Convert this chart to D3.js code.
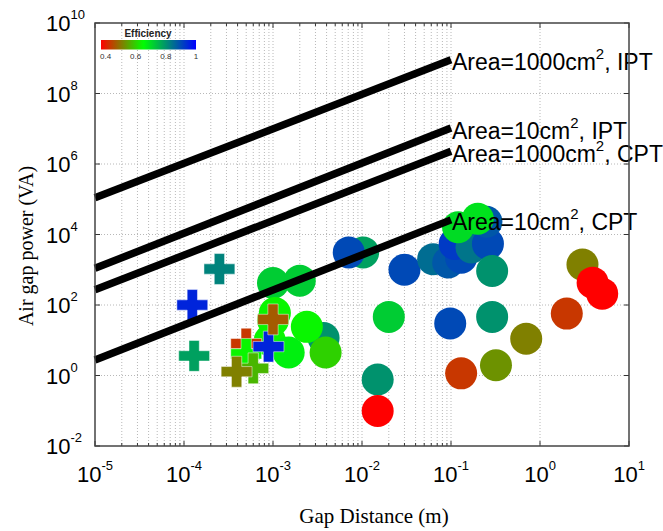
<!DOCTYPE html>
<html>
<head>
<meta charset="utf-8">
<script src="https://cdn.jsdelivr.net/npm/d3@7"></script>
<style>
  html, body { margin: 0; padding: 0; background: #fff; }
  svg { display: block; }
</style>
</head>
<body>
<svg id="chart" width="663" height="531"></svg>
<script>
// ---- data ----
// Round markers: gap distance (m), air gap power (VA), efficiency
const circleGap   = [1.03e-2, 7.1e-3, 3.0e-2, 6.3e-2, 9.3e-2, 0.13, 0.11, 0.17, 0.26, 0.25, 0.29,
                     0.12, 0.20, 1.0e-3, 2.0e-3, 2.0e-2, 0.098, 0.29, 0.70, 2.0, 3.0, 3.9, 5.0,
                     0.13, 0.32, 1.5e-2, 1.5e-2, 9.2e-4, 1.0e-3, 1.05e-3, 3.7e-3, 2.4e-3, 3.9e-3, 1.5e-3];
const circlePower = [3.1e3, 3.1e3, 1.0e3, 2.0e3, 1.6e3, 2.2e3, 5.4e3, 4.3e3, 5.4e3, 2.3e4, 9.2e2,
                     1.6e4, 2.8e4, 4.2e2, 4.9e2, 46, 30, 46, 11, 57, 1.4e3, 4.3e2, 2.1e2,
                     1.15, 1.96, 0.77, 0.098, 10, 37, 59, 11.6, 24, 4.5, 4.5];
const circleEff   = [0.78, 0.90, 0.90, 0.85, 0.88, 0.90, 0.92, 0.84, 0.90, 0.88, 0.80,
                     0.70, 0.69, 0.72, 0.72, 0.72, 0.90, 0.80, 0.51, 0.43, 0.51, 0.37, 0.37,
                     0.43, 0.53, 0.80, 0.37, 0.64, 0.64, 0.64, 0.80, 0.64, 0.60, 0.67];

// Cross markers: gap distance (m), air gap power (VA), efficiency
const plusGap   = [2.5e-4, 1.24e-4, 1.3e-4, 5.0e-4, 5.0e-4, 6.0e-4, 3.9e-4, 8.9e-4, 1.0e-3];
const plusPower = [1.05e3, 100, 3.6, 8.0, 4.1, 1.6, 1.28, 6.6, 39];
const plusEff   = [0.82, 0.95, 0.78, 0.43, 0.64, 0.57, 0.51, 0.95, 0.47];

// Theoretical limit lines (start/end gap and power)
const lineArea       = ["1000", "10", "1000", "10"];
const lineType       = ["IPT", "IPT", "CPT", "CPT"];
const lineGapStart   = [1e-5, 1e-5, 1e-5, 1e-5];
const lineGapEnd     = [0.1, 0.1, 0.1, 0.1];
const linePowerStart = [1.1e5, 1.1e3, 2.7e2, 2.75];
const linePowerEnd   = [9e8, 1.05e7, 2.3e6, 2.6e4];

// Axis ticks
const xTickExp = [-5, -4, -3, -2, -1, 0, 1];
const yTickExp = [-2, 0, 2, 4, 6, 8, 10];
const effTicks = [0.4, 0.6, 0.8, 1];
const effDomain = [0.37, 0.65, 1.0];

// ---- layout ----
const svg = d3.select("#chart");
const plotL = 95, plotR = 629, plotT = 23, plotB = 446;

const x = d3.scaleLog().domain([1e-5, 10]).range([plotL, plotR]);
const y = d3.scaleLog().domain([1e-2, 1e10]).range([plotB, plotT]);
const color = d3.scaleLinear().domain(effDomain).range(["#ff0000", "#00ff00", "#0000ff"]);

const sans = "'Liberation Sans', Arial, sans-serif";
const serif = "'Liberation Serif', 'Times New Roman', serif";

// background
svg.append("rect").attr("x", plotL).attr("y", plotT)
  .attr("width", plotR - plotL).attr("height", plotB - plotT).attr("fill", "#fff");

// ---- grid ----
const grid = svg.append("g").attr("stroke", "#b8b8b8").attr("stroke-width", 1)
  .attr("stroke-dasharray", "1,2").attr("fill", "none");

// minor vertical grid for the first four decades
const minorX = [];
for (let e = -5; e <= -2; e++) for (let m = 2; m <= 9; m++) minorX.push(m * Math.pow(10, e));
grid.selectAll("line.mx").data(minorX).join("line").attr("class", "mx")
  .attr("x1", d => x(d)).attr("x2", d => x(d)).attr("y1", plotT).attr("y2", plotB);
// major vertical grid
grid.selectAll("line.Mx").data(xTickExp.slice(1, -1)).join("line").attr("class", "Mx")
  .attr("x1", d => x(Math.pow(10, d))).attr("x2", d => x(Math.pow(10, d)))
  .attr("y1", plotT).attr("y2", plotB);
// major horizontal grid
grid.selectAll("line.My").data(yTickExp.slice(1, -1)).join("line").attr("class", "My")
  .attr("x1", plotL).attr("x2", plotR)
  .attr("y1", d => y(Math.pow(10, d))).attr("y2", d => y(Math.pow(10, d)));

// ---- tick marks ----
const ticks = svg.append("g").attr("stroke", "#333").attr("stroke-width", 1);
const allMajorX = xTickExp.map(e => Math.pow(10, e));
allMajorX.forEach(v => {
  ticks.append("line").attr("x1", x(v)).attr("x2", x(v)).attr("y1", plotB).attr("y2", plotB - 5);
  ticks.append("line").attr("x1", x(v)).attr("x2", x(v)).attr("y1", plotT).attr("y2", plotT + 5);
});
minorX.forEach(v => {
  ticks.append("line").attr("x1", x(v)).attr("x2", x(v)).attr("y1", plotB).attr("y2", plotB - 3);
  ticks.append("line").attr("x1", x(v)).attr("x2", x(v)).attr("y1", plotT).attr("y2", plotT + 3);
});
yTickExp.forEach(e => {
  const v = Math.pow(10, e);
  ticks.append("line").attr("x1", plotL).attr("x2", plotL + 5).attr("y1", y(v)).attr("y2", y(v));
  ticks.append("line").attr("x1", plotR).attr("x2", plotR - 5).attr("y1", y(v)).attr("y2", y(v));
});

// ---- circle markers ----
const circles = circleGap.map((g, i) => ({ g, p: circlePower[i], e: circleEff[i] }));
svg.append("g").selectAll("circle").data(circles).join("circle")
  .attr("cx", d => x(d.g)).attr("cy", d => y(d.p)).attr("r", 16)
  .attr("fill", d => color(d.e));

// ---- cross markers ----
const pluses = plusGap.map((g, i) => ({ g, p: plusPower[i], e: plusEff[i] }));
const cross = d3.symbol(d3.symbolCross, 530);
svg.append("g").selectAll("path").data(pluses).join("path")
  .attr("d", cross)
  .attr("transform", d => `translate(${x(d.g)},${y(d.p)})`)
  .attr("fill", d => color(d.e))
  .attr("stroke", "#ffffff").attr("stroke-opacity", 0.6).attr("stroke-width", 0.8);

// ---- limit lines ----
const lines = lineArea.map((a, i) => ({
  area: a, type: lineType[i],
  pts: [[lineGapStart[i], linePowerStart[i]], [lineGapEnd[i], linePowerEnd[i]]]
}));
const lineGen = d3.line().x(d => x(d[0])).y(d => y(d[1]));
svg.append("g").selectAll("path").data(lines).join("path")
  .attr("d", d => lineGen(d.pts))
  .attr("fill", "none").attr("stroke", "#000").attr("stroke-width", 7.5);

const lbl = svg.append("g").attr("font-family", sans).attr("fill", "#000");
lines.forEach(d => {
  const end = d.pts[1];
  const t = lbl.append("text")
    .attr("x", x(end[0]) + 1).attr("y", y(end[1]) + 10.5)
    .attr("font-size", 23);
  t.append("tspan").text(`Area=${d.area}cm`);
  t.append("tspan").attr("dy", -11).attr("font-size", 15).text("2");
  t.append("tspan").attr("dy", 11).text(`, ${d.type}`);
});

// ---- frame ----
svg.append("rect").attr("x", plotL).attr("y", plotT)
  .attr("width", plotR - plotL).attr("height", plotB - plotT)
  .attr("fill", "none").attr("stroke", "#444").attr("stroke-width", 1.5);

// ---- tick labels ----
const xl = svg.append("g").attr("font-family", sans).attr("fill", "#000");
xTickExp.forEach(e => {
  const t = xl.append("text").attr("x", x(Math.pow(10, e))).attr("y", 482)
    .attr("text-anchor", "middle").attr("font-size", 22);
  t.append("tspan").text("10");
  t.append("tspan").attr("dy", -12).attr("font-size", 13).text(e);
});
const yl = svg.append("g").attr("font-family", sans).attr("fill", "#000");
yTickExp.forEach(e => {
  const t = yl.append("text").attr("x", 46).attr("y", y(Math.pow(10, e)) + 8)
    .attr("font-size", 22);
  t.append("tspan").text("10");
  t.append("tspan").attr("dy", -12).attr("font-size", 13).text(e);
});

// ---- axis titles ----
svg.append("text").attr("x", 374).attr("y", 523).attr("text-anchor", "middle")
  .attr("font-family", serif).attr("font-size", 21).text("Gap Distance (m)");
svg.append("text").attr("transform", "translate(33,246) rotate(-90)")
  .attr("text-anchor", "middle").attr("font-family", serif).attr("font-size", 20)
  .text("Air gap power (VA)");

// ---- efficiency colour bar ----
const cb = d3.scaleLinear().domain([effDomain[0], effDomain[2]]).range([101, 196]);
const defs = svg.append("defs");
const grad = defs.append("linearGradient").attr("id", "effGrad")
  .attr("x1", "0%").attr("x2", "100%").attr("y1", "0%").attr("y2", "0%");
d3.range(0, 1.0001, 0.05).forEach(f => {
  const v = effDomain[0] + f * (effDomain[2] - effDomain[0]);
  grad.append("stop").attr("offset", `${f * 100}%`).attr("stop-color", color(v));
});
svg.append("rect").attr("x", cb.range()[0]).attr("y", 40)
  .attr("width", cb.range()[1] - cb.range()[0]).attr("height", 9.5)
  .attr("fill", "url(#effGrad)");
svg.append("text").attr("x", 148).attr("y", 37).attr("text-anchor", "middle")
  .attr("font-family", sans).attr("font-size", 10).attr("font-weight", "bold")
  .attr("fill", "#222").text("Efficiency");
svg.append("g").selectAll("text").data(effTicks).join("text")
  .attr("x", d => cb(d)).attr("y", 58.5).attr("text-anchor", "middle")
  .attr("font-family", sans).attr("font-size", 8).attr("fill", "#333")
  .text(d => d);
</script>
</body>
</html>
